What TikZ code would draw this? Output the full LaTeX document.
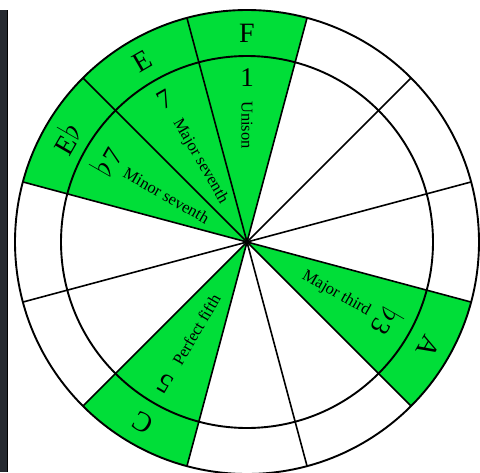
\documentclass[tikz,border=0pt]{standalone}
\usepackage{fontspec}
\setmainfont{Liberation Serif}
\definecolor{keygreen}{RGB}{0,222,56}
\definecolor{stripdark}{RGB}{38,42,48}
\newcommand{\flt}{\raisebox{0.05em}{\scalebox{1.3}{$\flat$}}\kern0.06em}
\begin{document}
\begin{tikzpicture}[x=1pt,y=1pt,
  ring/.style={line width=1.9pt},
  spoke/.style={line width=1.6pt},
  notename/.style={font=\fontsize{28}{30}\selectfont, inner sep=0pt},
  degree/.style={font=\fontsize{27}{30}\selectfont, inner sep=0pt},
  iname/.style={font=\fontsize{16.5}{18}\selectfont, inner sep=0pt},
]
\useasboundingbox (0,0) rectangle (480,-472);
\fill[white] (0,0) rectangle (480,-472);
% left strip
\fill[stripdark] (0,-10) rectangle (6.5,-472);
\draw[line width=1pt] (7.5,-10) -- (7.5,-472);
\coordinate (O) at (247,-242);
\def\R{232}
\def\r{186}
% green sectors
\foreach \a in {75,105,135,225,315}
  \fill[keygreen,shift={(O)}] (0,0) -- (\a:\R) arc[start angle=\a, end angle=\a+30, radius=\R] -- cycle;
% spokes
\foreach \a in {15,45,75,105,135,165}
  \draw[spoke,shift={(O)}] (\a:\R) -- (\a+180:\R);
\draw[ring] (O) circle[radius=\R];
\draw[ring] (O) circle[radius=\r];
% note names (outer ring)
\node[notename, rotate=0]    (nF)  at ([shift={(90:209)}]O)  {F};
\node[notename, rotate=30]   (nE)  at ([shift={(120:209)}]O) {E};
\node[notename, rotate=60]   (nEb) at ([shift={(150:209)}]O) {E\kern0.04em\flt};
\node[notename, rotate=150]  (nC)  at ([shift={(240:209)}]O) {C};
\node[notename, rotate=-120] (nA)  at ([shift={(330:209)}]O) {A};
% degrees
\node[degree, rotate=0]    (dF)  at ([shift={(90:164)}]O)  {1};
\node[degree, rotate=30]   (dE)  at ([shift={(120:165)}]O) {7};
\node[degree, rotate=60]   (dEb) at ([shift={(150:163)}]O) {\flt7};
\node[degree, rotate=150]  (dC)  at ([shift={(240:164)}]O) {5};
\node[degree, rotate=-120] (dA)  at ([shift={(330:162)}]O) {\flt3};
% interval names
\node[iname, anchor=west, rotate=-90] (iF)  at ([shift={(90:141)}]O)  {Unison};
\node[iname, anchor=west, rotate=-60] (iE)  at ([shift={(120:141)}]O) {Major seventh};
\node[iname, anchor=west, rotate=-30] (iEb) at ([shift={(150:141)}]O) {Minor seventh};
\node[iname, anchor=west, rotate=60]  (iC)  at ([shift={(240:141)}]O) {Perfect fifth};
\node[iname, anchor=east, rotate=-30] (iA)  at ([shift={(330:141)}]O) {Major third};
\end{tikzpicture}
\end{document}
